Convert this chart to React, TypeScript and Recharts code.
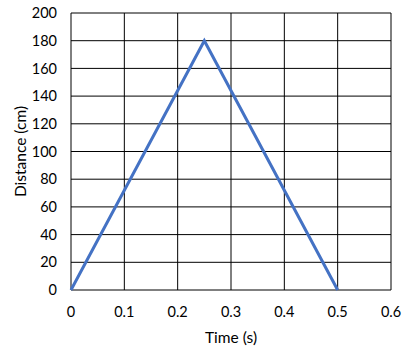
import React from 'react';
import { LineChart, Line, XAxis, YAxis, CartesianGrid } from 'recharts';

const times = [0, 0.25, 0.5];
const distances = [0, 180, 0];
const xTicks = [0, 0.1, 0.2, 0.3, 0.4, 0.5, 0.6];
const yTicks = [0, 20, 40, 60, 80, 100, 120, 140, 160, 180, 200];

const data = times.map((t, i) => ({ t, d: distances[i] }));

const font = 'Lato, "Open Sans", sans-serif';

export default function App() {
  return (
    <div style={{ position: 'absolute', left: 0, top: 0, background: '#fff' }}>
      <LineChart width={407} height={351} data={data} margin={{ top: 13, right: 16, bottom: 0, left: 0 }}>
        <CartesianGrid stroke="#000" strokeWidth={1} horizontalValues={yTicks} verticalValues={xTicks} />
        <XAxis
          dataKey="t"
          type="number"
          domain={[0, 0.6]}
          ticks={xTicks}
          tickFormatter={(v: number) => String(Math.round(v * 10) / 10)}
          axisLine={false}
          tickLine={false}
          tickSize={8}
          tickMargin={9}
          height={61}
          tick={{ fill: '#000', fontSize: 14.5, fontFamily: font }}
          label={{ value: 'Time (s)', position: 'insideBottom', offset: 8, fill: '#000', fontSize: 15.5, fontFamily: font }}
        />
        <YAxis
          type="number"
          domain={[0, 200]}
          ticks={yTicks}
          axisLine={false}
          tickLine={false}
          tickSize={8}
          tickMargin={6}
          width={71}
          tick={{ fill: '#000', fontSize: 14.5, fontFamily: font }}
          label={{ value: 'Distance (cm)', angle: -90, position: 'center', dx: -15, fill: '#000', fontSize: 15.5, fontFamily: font }}
        />
        <Line dataKey="d" stroke="#4472C4" strokeWidth={3} dot={false} isAnimationActive={false} type="linear" />
      </LineChart>
    </div>
  );
}
